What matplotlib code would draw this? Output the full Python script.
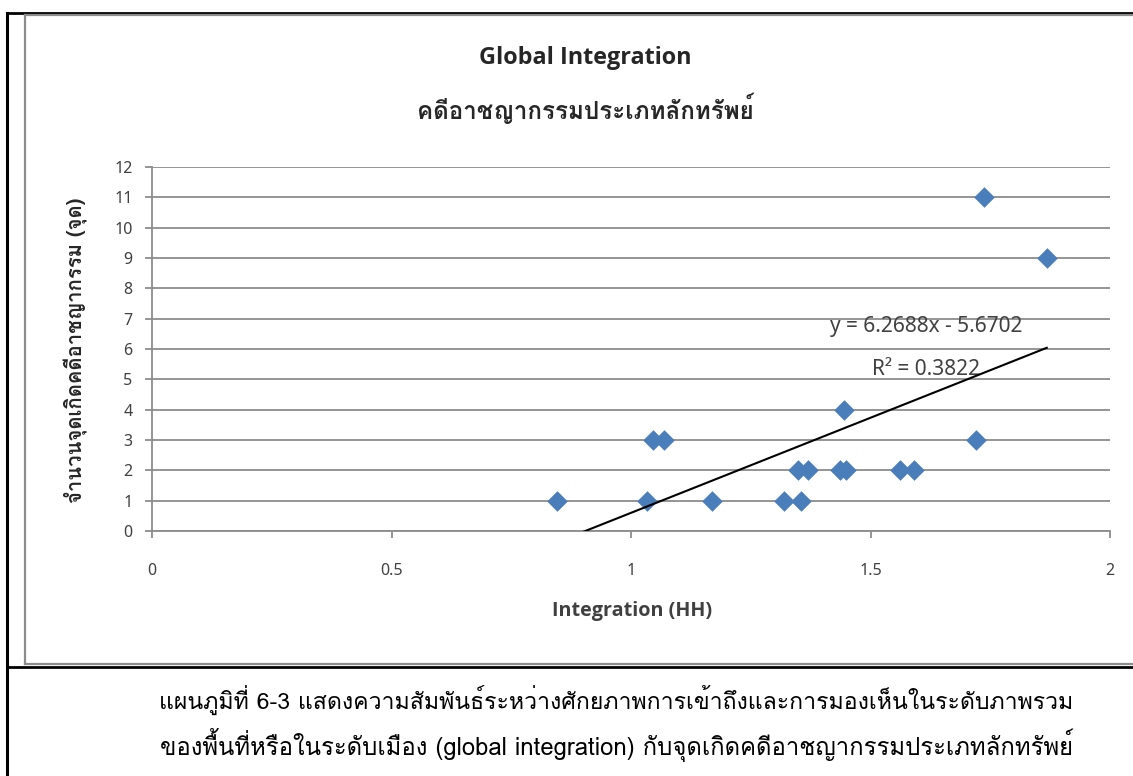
import matplotlib
matplotlib.use("Agg")
import matplotlib.pyplot as plt
from matplotlib import font_manager as fm
from matplotlib.lines import Line2D
import numpy as np

# ---------------- data ----------------
integration = [0.846, 1.033, 1.046, 1.069, 1.169, 1.319, 1.355, 1.349, 1.370,
               1.436, 1.449, 1.445, 1.562, 1.591, 1.720, 1.737, 1.868]
crimes = [1, 1, 3, 3, 1, 1, 1, 2, 2, 2, 2, 4, 2, 2, 3, 11, 9]
slope = 6.2688
intercept = -5.6702
r2 = 0.3822
x_ticks = [0, 0.5, 1, 1.5, 2]
x_tick_labels = ["0", "0.5", "1", "1.5", "2"]
y_ticks = list(range(0, 13))

title = "Global Integration"
subtitle = "คดีอาชญากรรมประเภทลักทรัพย์"
xlabel = "Integration (HH)"
ylabel = "จำนวนจุดเกิดคดีอาชญากรรม (จุด)"
caption1 = "แผนภูมิที่ 6-3 แสดงความสัมพันธ์ระหว่างศักยภาพการเข้าถึงและการมองเห็นในระดับภาพรวม"
caption2 = "ของพื้นที่หรือในระดับเมือง (global integration) กับจุดเกิดคดีอาชญากรรมประเภทลักทรัพย์"

# ---------------- fonts ----------------
thai_fam = None
try:
    from matplotlib.ft2font import FT2Font
    for f in fm.fontManager.ttflist:
        try:
            ft = FT2Font(f.fname)
            cmap = ft.get_charmap()
            if 0x0E01 in cmap and 0x0E32 in cmap:
                thai_fam = f.name
                break
        except Exception:
            pass
except Exception:
    pass

bold_fam = "DejaVu Sans"
for cand in ["Open Sans", "Lato", "Roboto", "Noto Sans"]:
    if any(f.name == cand and (f.weight in ("bold", 700) or str(f.weight) in ("700", "bold"))
           for f in fm.fontManager.ttflist):
        bold_fam = cand
        break

thai_first = ([thai_fam] if thai_fam else []) + ["Noto Sans", "DejaVu Sans"]
latin_first = ["Noto Sans"] + ([thai_fam] if thai_fam else []) + ["DejaVu Sans"]
plt.rcParams["font.family"] = latin_first

fig = plt.figure(figsize=(11.33, 7.76), dpi=100)
W, H = 1133, 776

def fx(px):
    return px / W

def fy(py):
    return 1 - py / H

# borders
fig.add_artist(Line2D([fx(7), fx(7)], [fy(13), fy(776)], color="black", lw=2.2))
fig.add_artist(Line2D([fx(7), fx(1133)], [fy(12.5), fy(12.5)], color="black", lw=2.0))
fig.add_artist(Line2D([fx(7), fx(1133)], [fy(667), fy(667)], color="black", lw=2.0))
fig.add_artist(Line2D([fx(25), fx(25)], [fy(15), fy(664)], color="#8c8c8c", lw=1.6))
fig.add_artist(Line2D([fx(25), fx(1133)], [fy(15), fy(15)], color="#8c8c8c", lw=1.6))
fig.add_artist(Line2D([fx(25), fx(1133)], [fy(664), fy(664)], color="#8c8c8c", lw=1.6))

ax = fig.add_axes([fx(152), fy(531), fx(1110) - fx(152), fy(167) - fy(531)])
ax.set_xlim(0, 2)
ax.set_ylim(0, 12)
ax.set_xticks(x_ticks)
ax.set_xticklabels(x_tick_labels)
ax.set_yticks(y_ticks)
ax.grid(axis="y", color="#8c8c8c", lw=1.3)
ax.set_axisbelow(True)
for s in ["top", "right"]:
    ax.spines[s].set_visible(False)
ax.spines["left"].set_color("#8c8c8c")
ax.spines["bottom"].set_color("#8c8c8c")
ax.spines["left"].set_linewidth(1.3)
ax.spines["bottom"].set_linewidth(1.3)
ax.tick_params(axis="both", colors="#8c8c8c", labelcolor="#404040", labelsize=11.5,
               length=5, width=1.3)
ax.tick_params(axis="x", pad=18)
ax.tick_params(axis="y", pad=9)

ax.scatter(integration, crimes, marker="D", s=110, color="#4a7ebb", zorder=3, linewidths=0)

xs = np.array([min(integration), max(integration)])
ax.plot(xs, slope * xs + intercept, color="black", lw=1.5, zorder=4, clip_on=True)

ax.text(1.617, 6.73, f"y = {slope}x - {-intercept:.4f}", fontsize=15, color="#404040",
        ha="center", va="center")
ax.text(1.617, 5.31, f"R² = {r2}", fontsize=15, color="#404040",
        ha="center", va="center")

fig.text(fx(585), fy(58), title, fontsize=16.8, fontweight="bold", ha="center", va="center",
         color="#262626", family=[bold_fam, "DejaVu Sans"])
fig.text(fx(585), fy(108), subtitle, fontsize=17.4, fontweight="bold", ha="center",
         va="center", family=thai_first, color="#262626")
fig.text(fx(632), fy(611), xlabel, fontsize=14.2, fontweight="bold", ha="center", va="center",
         color="#404040", family=[bold_fam, "DejaVu Sans"])
fig.text(fx(76), fy(350), ylabel, fontsize=14.6, fontweight="bold", ha="center", va="center",
         rotation=90, color="#262626", family=thai_first)

fig.text(fx(616), fy(700), caption1, fontsize=16.6, ha="center", va="center",
         family=thai_first)
fig.text(fx(616), fy(745), caption2, fontsize=17.2, ha="center", va="center",
         family=thai_first)

fig.savefig("out.png", dpi=100)
